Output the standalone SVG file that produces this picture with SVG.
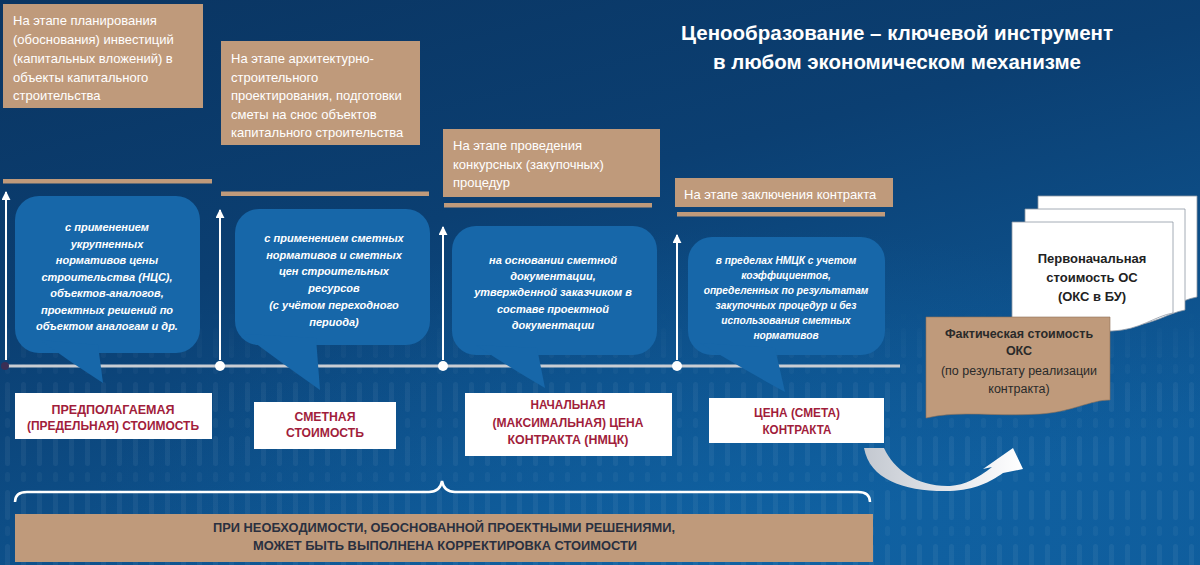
<svg xmlns="http://www.w3.org/2000/svg" width="1200" height="565" viewBox="0 0 1200 565">
<defs>
<linearGradient id="bg" x1="0" y1="0" x2="0.55" y2="1">
<stop offset="0" stop-color="#0a3562"/>
<stop offset="0.45" stop-color="#0b3f72"/>
<stop offset="1" stop-color="#0f5c9b"/>
</linearGradient>
<radialGradient id="glow" cx="0.62" cy="0.95" r="0.55">
<stop offset="0" stop-color="#1166a8" stop-opacity="0.55"/>
<stop offset="1" stop-color="#1166a8" stop-opacity="0"/>
</radialGradient>
<linearGradient id="fade" x1="0" y1="0" x2="0" y2="1">
<stop offset="0" stop-color="#fff" stop-opacity="0"/>
<stop offset="0.35" stop-color="#fff" stop-opacity="1"/>
<stop offset="1" stop-color="#fff" stop-opacity="1"/>
</linearGradient>
<mask id="stripeMask"><rect x="0" y="300" width="1200" height="265" fill="url(#fade)"/></mask>
<pattern id="stripes" width="16" height="54" patternUnits="userSpaceOnUse">
<rect x="5" y="4" width="5" height="30" rx="2.5" fill="#ffffff" opacity="0.05"/>
<rect x="5" y="40" width="5" height="10" rx="2.5" fill="#ffffff" opacity="0.04"/>
</pattern>
<linearGradient id="swoosh" x1="0" y1="0" x2="1" y2="0">
<stop offset="0" stop-color="#c3c8d0"/>
<stop offset="0.6" stop-color="#e8eaee"/>
<stop offset="1" stop-color="#ffffff"/>
</linearGradient>
<marker id="up" viewBox="0 0 10 10" refX="9" refY="5" markerWidth="4.5" markerHeight="4.5" orient="auto" markerUnits="strokeWidth">
<path d="M0,0 L10,5 L0,10 Z" fill="#ffffff"/>
</marker>
<style>
.tan{fill:#bf9a7b;}
.bar{fill:#bf9a7b;}
.stage{font-family:"Liberation Sans",Arial,sans-serif;font-size:13px;fill:#ffffff;}
.bub{fill:#1767a9;}
.bt{font-family:"Liberation Sans",Arial,sans-serif;font-size:11px;font-weight:bold;font-style:italic;fill:#ffffff;text-anchor:middle;}
.bt4{font-size:10.2px;}
.vline{stroke:#ffffff;stroke-width:2;fill:none;}
.lbl{fill:#ffffff;}
.lt{font-family:"Liberation Sans",Arial,sans-serif;font-size:12.5px;font-weight:bold;fill:#a11d3b;text-anchor:middle;}
.title{font-family:"Liberation Sans",Arial,sans-serif;font-size:20px;font-weight:bold;fill:#ffffff;text-anchor:middle;}
.bot{font-family:"Liberation Sans",Arial,sans-serif;font-size:12.5px;font-weight:bold;fill:#2a3040;text-anchor:middle;}
.page{fill:#ffffff;stroke:#8e97a3;stroke-width:0.8;}
.pt{font-family:"Liberation Sans",Arial,sans-serif;font-size:13px;font-weight:bold;fill:#222222;text-anchor:middle;}
.dt{font-family:"Liberation Sans",Arial,sans-serif;font-size:12.5px;fill:#2a2a2a;text-anchor:middle;}
</style>
</defs>

<rect width="1200" height="565" fill="url(#bg)"/>
<rect width="1200" height="565" fill="url(#glow)"/>
<rect x="0" y="300" width="1200" height="265" fill="url(#stripes)" mask="url(#stripeMask)"/>

<g id="title">
<text class="title" x="897" y="40" textLength="432" lengthAdjust="spacingAndGlyphs">Ценообразование – ключевой инструмент</text>
<text class="title" x="897" y="69" textLength="368" lengthAdjust="spacingAndGlyphs">в любом экономическом механизме</text>
</g>

<g id="stage1">
<rect class="tan" x="3" y="4" width="200" height="104"/>
<text class="stage"><tspan x="13" y="25">На этапе планирования</tspan><tspan x="13" y="44">(обоснования) инвестиций</tspan><tspan x="13" y="63">(капитальных вложений) в</tspan><tspan x="13" y="82">объекты капитального</tspan><tspan x="13" y="100">строительства</tspan></text>
<rect class="bar" x="3" y="179" width="209" height="4.5"/>
</g>
<g id="stage2">
<rect class="tan" x="221" y="41" width="199" height="104"/>
<text class="stage"><tspan x="231" y="63">На этапе архитектурно-</tspan><tspan x="231" y="81.5">строительного</tspan><tspan x="231" y="100">проектирования, подготовки</tspan><tspan x="231" y="118.5">сметы на снос объектов</tspan><tspan x="231" y="137">капитального строительства</tspan></text>
<rect class="bar" x="221" y="191.5" width="208" height="4.5"/>
</g>
<g id="stage3">
<rect class="tan" x="443" y="129" width="217" height="68"/>
<text class="stage"><tspan x="453" y="150">На этапе проведения</tspan><tspan x="453" y="168.5">конкурсных (закупочных)</tspan><tspan x="453" y="187">процедур</tspan></text>
<rect class="bar" x="444" y="203" width="208" height="4.5"/>
</g>
<g id="stage4">
<rect class="tan" x="675" y="178" width="218" height="29"/>
<text class="stage" x="684" y="198.5">На этапе заключения контракта</text>
<rect class="bar" x="677" y="212" width="208" height="4.5"/>
</g>

<g id="connectors">
<line x1="5" y1="366" x2="900" y2="366" stroke="#c9cdd3" stroke-width="3"/>
<line class="vline" x1="6" y1="360" x2="6" y2="192" marker-end="url(#up)"/>
<line class="vline" x1="220" y1="360" x2="220" y2="210" marker-end="url(#up)"/>
<line class="vline" x1="443" y1="360" x2="443" y2="227" marker-end="url(#up)"/>
<line class="vline" x1="677" y1="360" x2="677" y2="235" marker-end="url(#up)"/>
<circle cx="5" cy="366" r="4" fill="#3a2f55"/>
<circle cx="220" cy="366" r="5" fill="#ffffff"/>
<circle cx="443" cy="366" r="5" fill="#ffffff"/>
<circle cx="677" cy="366" r="5" fill="#ffffff"/>
<path d="M15,502 Q15,492 27,492 L429,492 Q440,492 442,481 Q444,492 455,492 L858,492 Q870,492 870,502" fill="none" stroke="#ffffff" stroke-width="2.5"/>
<path d="M864,448 C870,480 905,492 950,491 C975,490 990,482 1003,473 L1023,469 L1013,448 L983,469 L992,467 C978,478 965,485 950,486 C918,487 894,470 884,448 Z" fill="url(#swoosh)"/>
</g>

<g id="bubble1">
<rect class="bub" x="15" y="196" width="185" height="157" rx="24"/>
<path class="bub" d="M40,340 Q70,362 103,383 L98,345 Z"/>
<text class="bt"><tspan x="107" y="231">с применением</tspan><tspan x="107" y="247.5">укрупненных</tspan><tspan x="107" y="264">нормативов цены</tspan><tspan x="107" y="280.5">строительства (НЦС),</tspan><tspan x="107" y="297">объектов-аналогов,</tspan><tspan x="107" y="313.5">проектных решений по</tspan><tspan x="107" y="330">объектом аналогам и др.</tspan></text>
</g>
<g id="bubble2">
<rect class="bub" x="235" y="209" width="195" height="136" rx="24"/>
<path class="bub" d="M243,334 Q280,362 320,390 L316,338 Z"/>
<text class="bt"><tspan x="334" y="242">с применением сметных</tspan><tspan x="334" y="258.5">нормативов и сметных</tspan><tspan x="334" y="275">цен строительных</tspan><tspan x="334" y="291.5">ресурсов</tspan><tspan x="334" y="309">(с учётом переходного</tspan><tspan x="334" y="325.5">периода)</tspan></text>
</g>
<g id="bubble3">
<rect class="bub" x="452" y="226" width="205" height="129" rx="24"/>
<path class="bub" d="M476,345 Q510,368 545,388 L537,348 Z"/>
<text class="bt"><tspan x="553" y="264">на основании сметной</tspan><tspan x="553" y="280">документации,</tspan><tspan x="553" y="296">утвержденной заказчиком в</tspan><tspan x="553" y="312.5">составе проектной</tspan><tspan x="553" y="329">документации</tspan></text>
</g>
<g id="bubble4">
<rect class="bub" x="688" y="237" width="197" height="118" rx="24"/>
<path class="bub" d="M700,343 Q745,370 785,392 L775,348 Z"/>
<text class="bt bt4"><tspan x="786" y="264">в пределах НМЦК с учетом</tspan><tspan x="786" y="279">коэффициентов,</tspan><tspan x="786" y="294">определенных по результатам</tspan><tspan x="786" y="309">закупочных процедур и без</tspan><tspan x="786" y="323.5">использования сметных</tspan><tspan x="786" y="338.5">нормативов</tspan></text>
</g>

<g id="label1">
<rect class="lbl" x="15" y="393" width="197" height="46"/>
<text class="lt" x="113" y="414" textLength="123" lengthAdjust="spacingAndGlyphs">ПРЕДПОЛАГАЕМАЯ</text>
<text class="lt" x="113" y="430" textLength="172" lengthAdjust="spacingAndGlyphs">(ПРЕДЕЛЬНАЯ) СТОИМОСТЬ</text>
</g>
<g id="label2">
<rect class="lbl" x="254" y="402" width="142" height="47"/>
<text class="lt" x="325" y="421" textLength="61" lengthAdjust="spacingAndGlyphs">СМЕТНАЯ</text>
<text class="lt" x="325" y="437" textLength="78" lengthAdjust="spacingAndGlyphs">СТОИМОСТЬ</text>
</g>
<g id="label3">
<rect class="lbl" x="465" y="393" width="207" height="63"/>
<text class="lt" x="568" y="409" textLength="75" lengthAdjust="spacingAndGlyphs">НАЧАЛЬНАЯ</text>
<text class="lt" x="568" y="426.5" textLength="151" lengthAdjust="spacingAndGlyphs">(МАКСИМАЛЬНАЯ) ЦЕНА</text>
<text class="lt" x="568" y="444" textLength="121" lengthAdjust="spacingAndGlyphs">КОНТРАКТА (НМЦК)</text>
</g>
<g id="label4">
<rect class="lbl" x="709" y="398" width="175" height="45"/>
<text class="lt" x="797" y="417" textLength="86" lengthAdjust="spacingAndGlyphs">ЦЕНА (СМЕТА)</text>
<text class="lt" x="797" y="434" textLength="69" lengthAdjust="spacingAndGlyphs">КОНТРАКТА</text>
</g>

<g id="correction">
<rect class="tan" x="15" y="514" width="858" height="48"/>
<text class="bot" x="444" y="532" textLength="462" lengthAdjust="spacingAndGlyphs">ПРИ НЕОБХОДИМОСТИ, ОБОСНОВАННОЙ ПРОЕКТНЫМИ РЕШЕНИЯМИ,</text>
<text class="bot" x="445" y="549.5" textLength="384" lengthAdjust="spacingAndGlyphs">МОЖЕТ БЫТЬ ВЫПОЛНЕНА КОРРЕКТИРОВКА СТОИМОСТИ</text>
</g>

<g id="initial-cost">
<path class="page" d="M1038,196 H1197 V297 C1180,300 1165,312 1140,313 C1100,315 1070,300 1038,300 Z"/>
<path class="page" d="M1025,209 H1185 V310 C1168,313 1153,325 1128,326 C1088,328 1058,313 1025,313 Z"/>
<path class="page" d="M1012,222 H1173 V313 C1155,316 1140,330 1112,331 C1072,333 1045,318 1012,318 Z"/>
<text class="pt"><tspan x="1092" y="263">Первоначальная</tspan><tspan x="1092" y="282">стоимость ОС</tspan><tspan x="1092" y="300.5">(ОКС в БУ)</tspan></text>
</g>
<g id="actual-cost">
<path d="M926,317 H1110 V400 C1090,400 1072,412 1040,414 C995,417 960,410 926,418 Z" fill="#bf9a7b" stroke="#8e7158" stroke-width="0.6"/>
<text class="dt" font-weight="bold"><tspan x="1019" y="338">Фактическая стоимость</tspan><tspan x="1019" y="355">ОКС</tspan></text>
<text class="dt"><tspan x="1019" y="374.5">(по результату реализации</tspan><tspan x="1019" y="393">контракта)</tspan></text>
</g>
</svg>
